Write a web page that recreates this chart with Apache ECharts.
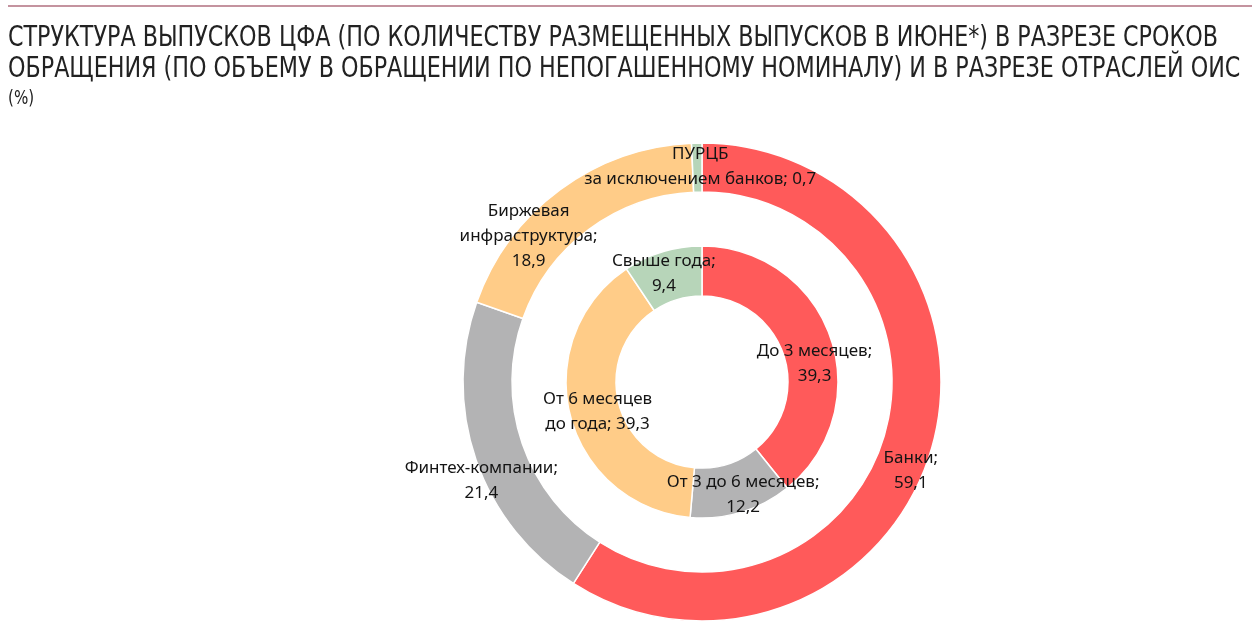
<!DOCTYPE html>
<html>
<head>
<meta charset="utf-8">
<script src="https://cdn.jsdelivr.net/npm/echarts@6/dist/echarts.min.js"></script>
<style>
  html, body { margin: 0; padding: 0; background: #fff; }
  #chart { width: 1252px; height: 631px; }
</style>
</head>
<body>
<div id="chart"></div>
<script>
// данные
const titleLines = [
  'СТРУКТУРА ВЫПУСКОВ ЦФА (ПО КОЛИЧЕСТВУ РАЗМЕЩЕННЫХ ВЫПУСКОВ В ИЮНЕ*) В РАЗРЕЗЕ СРОКОВ',
  'ОБРАЩЕНИЯ (ПО ОБЪЕМУ В ОБРАЩЕНИИ ПО НЕПОГАШЕННОМУ НОМИНАЛУ) И В РАЗРЕЗЕ ОТРАСЛЕЙ ОИС'
];
const unitText = '(%)';

// внутреннее кольцо - сроки обращения
const termNames = ['До 3 месяцев', 'От 3 до 6 месяцев', 'От 6 месяцев\nдо года', 'Свыше года'];
const termValues = [39.3, 12.2, 39.3, 9.4];

// внешнее кольцо - отрасли ОИС
const industryNames = ['Банки', 'Финтех-компании', 'Биржевая\nинфраструктура', 'ПУРЦБ\nза исключением банков'];
const industryValues = [59.1, 21.4, 18.9, 0.7];

const colors = ['#ff5a5a', '#b3b3b4', '#ffcc88', '#b7d5b9'];

// сдвиги подписей относительно середины сектора
const termOffsets = [[5, 20], [8, 4], [6, 1], [-5, 1]];
const industryOffsets = [[0, 28], [-15, 28], [-44, 29], [3, 2]];

function fmt(v) {
  return String(v).replace('.', ',');
}

function buildData(names, values, offsets, inlineIdx) {
  return names.map(function (n, i) {
    const sep = inlineIdx.indexOf(i) >= 0 ? '; ' : ';\n';
    return {
      name: n,
      value: values[i],
      itemStyle: { color: colors[i] },
      label: {
        offset: offsets[i],
        formatter: n + sep + fmt(values[i])
      }
    };
  });
}

// заголовок узким шрифтом: подгоняем ширину строки
const titleFont = '28px "DejaVu Sans Condensed", "Liberation Sans", sans-serif';
const ctx = document.createElement('canvas').getContext('2d');
ctx.font = titleFont;
const titleScale = 1210 / ctx.measureText(titleLines[0]).width;

const chart = echarts.init(document.getElementById('chart'));

const labelStyle = {
  show: true,
  position: 'inside',
  color: '#141414',
  fontSize: 17,
  lineHeight: 25,
  fontFamily: 'Noto Sans',
  align: 'center'
};

chart.setOption({
  animation: false,
  graphic: [
    {
      type: 'rect',
      shape: { x: 8, y: 5, width: 1244, height: 2 },
      style: { fill: '#c4939f' }
    },
    {
      type: 'text',
      x: 8,
      y: 23,
      scaleX: titleScale,
      style: {
        text: titleLines.join('\n'),
        font: titleFont,
        lineHeight: 31,
        fill: '#222'
      }
    },
    {
      type: 'text',
      x: 8,
      y: 90,
      scaleX: titleScale,
      style: {
        text: unitText,
        font: '19px "DejaVu Sans Condensed", "Liberation Sans", sans-serif',
        fill: '#222'
      }
    }
  ],
  series: [
    {
      name: 'Сроки обращения',
      type: 'pie',
      center: [702, 382],
      radius: [86, 136],
      startAngle: 90,
      clockwise: true,
      itemStyle: { borderColor: '#fff', borderWidth: 1.5 },
      label: labelStyle,
      labelLine: { show: false },
      emphasis: { disabled: true },
      data: buildData(termNames, termValues, termOffsets, [2])
    },
    {
      name: 'Отрасли ОИС',
      type: 'pie',
      center: [702, 382],
      radius: [190, 239],
      startAngle: 90,
      clockwise: true,
      itemStyle: { borderColor: '#fff', borderWidth: 1.5 },
      label: labelStyle,
      labelLine: { show: false },
      emphasis: { disabled: true },
      data: buildData(industryNames, industryValues, industryOffsets, [3])
    }
  ]
});
</script>
</body>
</html>
